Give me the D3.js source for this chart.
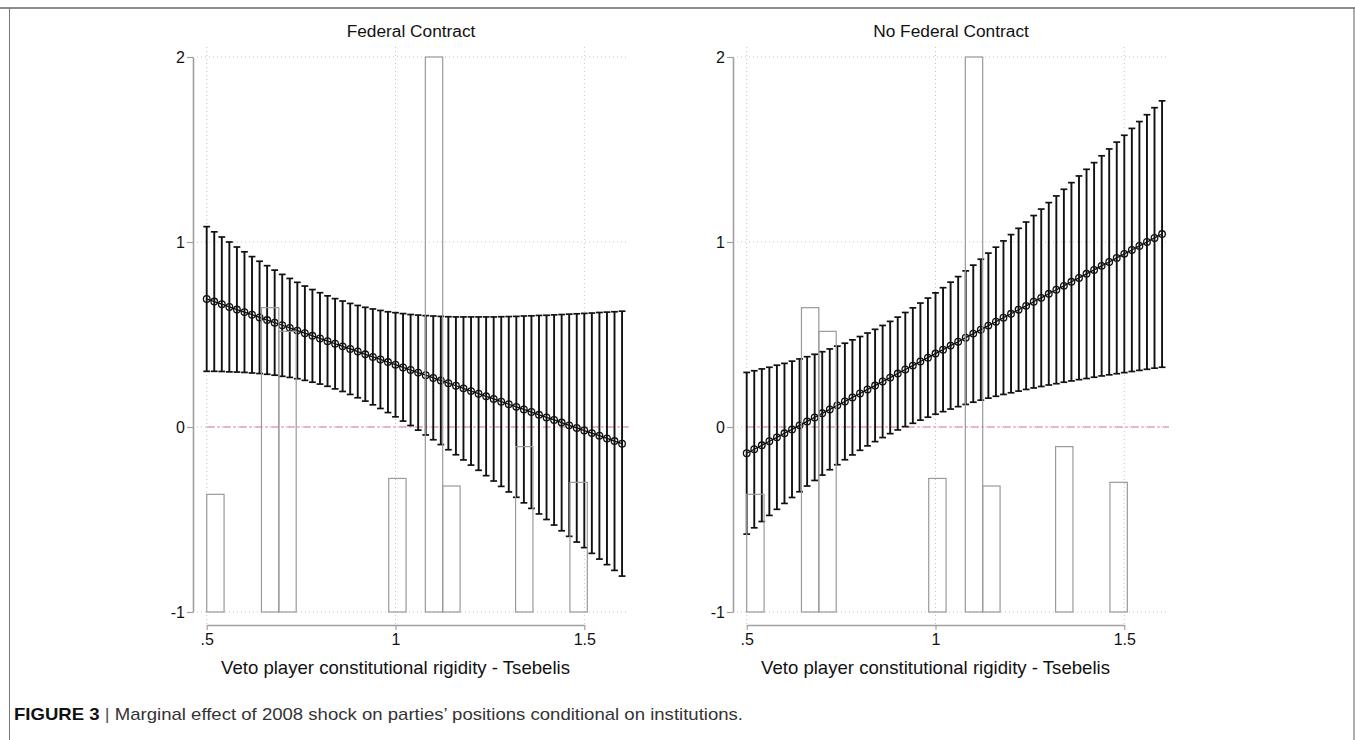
<!DOCTYPE html>
<html>
<head>
<meta charset="utf-8">
<script src="https://cdn.jsdelivr.net/npm/d3@7"></script>
<style>
  body { margin: 0; background: #fff; }
  svg { display: block; font-family: "Liberation Sans", Arial, sans-serif; }
</style>
</head>
<body>
<div id="chart"></div>
<script>
// Valeurs de x (rigidité constitutionnelle)
const xVals = [0.50, 0.52, 0.54, 0.56, 0.58, 0.60, 0.62, 0.64, 0.66, 0.68,
  0.70, 0.72, 0.74, 0.76, 0.78, 0.80, 0.82, 0.84, 0.86, 0.88,
  0.90, 0.92, 0.94, 0.96, 0.98, 1.00, 1.02, 1.04, 1.06, 1.08,
  1.10, 1.12, 1.14, 1.16, 1.18, 1.20, 1.22, 1.24, 1.26, 1.28,
  1.30, 1.32, 1.34, 1.36, 1.38, 1.40, 1.42, 1.44, 1.46, 1.48,
  1.50, 1.52, 1.54, 1.56, 1.58, 1.60];

// Federal Contract : effet marginal et intervalle
const fedEst = [0.692, 0.678, 0.664, 0.649, 0.635, 0.621, 0.607, 0.592, 0.578, 0.564,
  0.550, 0.536, 0.521, 0.507, 0.493, 0.479, 0.464, 0.450, 0.436, 0.422,
  0.408, 0.393, 0.379, 0.365, 0.351, 0.337, 0.322, 0.308, 0.294, 0.280,
  0.265, 0.251, 0.237, 0.223, 0.209, 0.194, 0.180, 0.166, 0.152, 0.137,
  0.123, 0.109, 0.095, 0.081, 0.066, 0.052, 0.038, 0.024, 0.009, -0.005,
  -0.019, -0.033, -0.047, -0.062, -0.076, -0.090];
const fedLo = [0.301, 0.301, 0.300, 0.298, 0.297, 0.295, 0.292, 0.289, 0.285, 0.280,
  0.274, 0.268, 0.261, 0.252, 0.242, 0.232, 0.220, 0.206, 0.192, 0.176,
  0.158, 0.140, 0.120, 0.100, 0.078, 0.055, 0.032, 0.008, -0.017, -0.043,
  -0.069, -0.095, -0.123, -0.150, -0.178, -0.206, -0.234, -0.263, -0.292, -0.321,
  -0.351, -0.380, -0.410, -0.440, -0.470, -0.500, -0.530, -0.561, -0.591, -0.622,
  -0.652, -0.683, -0.714, -0.744, -0.775, -0.806];
const fedHi = [1.083, 1.055, 1.027, 1.000, 0.973, 0.947, 0.921, 0.896, 0.872, 0.848,
  0.825, 0.803, 0.782, 0.762, 0.743, 0.726, 0.709, 0.694, 0.681, 0.668,
  0.657, 0.647, 0.638, 0.630, 0.623, 0.618, 0.613, 0.608, 0.605, 0.602,
  0.600, 0.598, 0.596, 0.595, 0.595, 0.595, 0.595, 0.595, 0.595, 0.596,
  0.597, 0.598, 0.600, 0.601, 0.603, 0.604, 0.606, 0.608, 0.610, 0.612,
  0.614, 0.616, 0.619, 0.621, 0.623, 0.626];

// No Federal Contract
const noFedEst = [-0.142, -0.120, -0.099, -0.077, -0.056, -0.034, -0.013, 0.009, 0.030, 0.052,
  0.074, 0.095, 0.117, 0.138, 0.160, 0.181, 0.203, 0.224, 0.246, 0.267,
  0.289, 0.311, 0.332, 0.354, 0.375, 0.397, 0.418, 0.440, 0.461, 0.483,
  0.505, 0.526, 0.548, 0.569, 0.591, 0.612, 0.634, 0.655, 0.677, 0.698,
  0.720, 0.742, 0.763, 0.785, 0.806, 0.828, 0.849, 0.871, 0.892, 0.914,
  0.936, 0.957, 0.979, 1.000, 1.022, 1.043];
const noFedLo = [-0.579, -0.545, -0.511, -0.478, -0.445, -0.413, -0.381, -0.350, -0.319, -0.289,
  -0.260, -0.231, -0.204, -0.177, -0.151, -0.126, -0.102, -0.079, -0.057, -0.036,
  -0.016, 0.002, 0.020, 0.037, 0.053, 0.069, 0.083, 0.097, 0.110, 0.122,
  0.134, 0.145, 0.156, 0.166, 0.176, 0.185, 0.194, 0.203, 0.211, 0.219,
  0.227, 0.234, 0.242, 0.249, 0.256, 0.262, 0.269, 0.276, 0.282, 0.288,
  0.294, 0.300, 0.306, 0.312, 0.318, 0.323];
const noFedHi = [0.295, 0.304, 0.314, 0.323, 0.334, 0.344, 0.356, 0.368, 0.380, 0.393,
  0.407, 0.422, 0.437, 0.453, 0.471, 0.489, 0.508, 0.528, 0.549, 0.571,
  0.594, 0.619, 0.644, 0.670, 0.697, 0.725, 0.753, 0.783, 0.813, 0.844,
  0.875, 0.907, 0.940, 0.972, 1.006, 1.040, 1.074, 1.108, 1.143, 1.178,
  1.213, 1.249, 1.285, 1.321, 1.357, 1.393, 1.429, 1.466, 1.503, 1.540,
  1.577, 1.614, 1.651, 1.688, 1.726, 1.763];

// Histogramme (même distribution dans les deux panneaux), base à -1
const binLeft = [0.500, 0.645, 0.691, 0.982, 1.079, 1.125, 1.318, 1.462];
const binRight = [0.546, 0.691, 0.737, 1.028, 1.125, 1.171, 1.364, 1.508];
const binTop = [-0.364, 0.645, 0.517, -0.278, 2.0, -0.319, -0.106, -0.299];

const yTicks = [-1, 0, 1, 2];
const yTickLabels = ["-1", "0", "1", "2"];
const xTicks = [0.5, 1, 1.5];
const xTickLabels = [".5", "1", "1.5"];
const titles = ["Federal Contract", "No Federal Contract"];
const xTitle = "Veto player constitutional rigidity - Tsebelis";

const width = 1355, height = 740;

const svg = d3.select("#chart")
    .append("svg")
    .attr("width", width)
    .attr("height", height);

// Cadre de la figure
svg.append("line").attr("x1", 0).attr("x2", width).attr("y1", 8).attr("y2", 8)
    .attr("stroke", "#666").attr("stroke-width", 1.5);
svg.append("line").attr("x1", 9.5).attr("x2", 9.5).attr("y1", 8).attr("y2", height)
    .attr("stroke", "#777").attr("stroke-width", 1);
svg.append("line").attr("x1", 1354).attr("x2", 1354).attr("y1", 8).attr("y2", height)
    .attr("stroke", "#777").attr("stroke-width", 1.2);

const panels = [
    { title: titles[0], est: fedEst, lo: fedLo, hi: fedHi, x0: 206.7 },
    { title: titles[1], est: noFedEst, lo: noFedLo, hi: noFedHi, x0: 746.7 }
];

const y = d3.scaleLinear().domain([-1, 2]).range([612, 57]);
const xAxisY = 625;

panels.forEach(p => {
    const x = d3.scaleLinear().domain([0.5, 1.5]).range([p.x0, p.x0 + 377.6]);
    const left = p.x0 - 13.7;
    const right = x(1.6) + 7;
    const g = svg.append("g");

    // Grille pointillée
    g.append("g").selectAll("line")
        .data(yTicks)
        .enter()
        .append("line")
        .attr("x1", left).attr("x2", right)
        .attr("y1", d => y(d)).attr("y2", d => y(d))
        .attr("stroke", "#c4c4c4").attr("stroke-width", 1)
        .attr("stroke-dasharray", "1,3");
    g.append("g").selectAll("line")
        .data(xTicks)
        .enter()
        .append("line")
        .attr("x1", d => x(d)).attr("x2", d => x(d))
        .attr("y1", 47).attr("y2", xAxisY)
        .attr("stroke", "#c4c4c4").attr("stroke-width", 1)
        .attr("stroke-dasharray", "1,3");

    // Ligne de référence à 0
    g.append("line")
        .attr("x1", x(0.5)).attr("x2", right)
        .attr("y1", y(0)).attr("y2", y(0))
        .attr("stroke", "#e0709a").attr("stroke-width", 1.1)
        .attr("stroke-dasharray", "8,3,2,3");

    // Intervalles de confiance
    const idx = d3.range(xVals.length);
    g.append("g").selectAll("line")
        .data(idx)
        .enter()
        .append("line")
        .attr("x1", i => x(xVals[i])).attr("x2", i => x(xVals[i]))
        .attr("y1", i => y(p.lo[i])).attr("y2", i => y(p.hi[i]))
        .attr("stroke", "#111").attr("stroke-width", 1.9);
    [p.lo, p.hi].forEach(arr => {
        g.append("g").selectAll("line")
            .data(idx)
            .enter()
            .append("line")
            .attr("x1", i => x(xVals[i]) - 3.4).attr("x2", i => x(xVals[i]) + 3.4)
            .attr("y1", i => y(arr[i])).attr("y2", i => y(arr[i]))
            .attr("stroke", "#111").attr("stroke-width", 1.7);
    });

    // Effet marginal
    g.append("path")
        .datum(idx)
        .attr("fill", "none")
        .attr("stroke", "#111")
        .attr("stroke-width", 1.3)
        .attr("d", d3.line().x(i => x(xVals[i])).y(i => y(p.est[i])));
    g.append("g").selectAll("circle")
        .data(idx)
        .enter()
        .append("circle")
        .attr("cx", i => x(xVals[i]))
        .attr("cy", i => y(p.est[i]))
        .attr("r", 3.3)
        .attr("fill", "none")
        .attr("stroke", "#111")
        .attr("stroke-width", 1.3);

    // Histogramme
    g.append("g").selectAll("rect")
        .data(binLeft)
        .enter()
        .append("rect")
        .attr("x", (d, i) => x(d))
        .attr("y", (d, i) => y(binTop[i]))
        .attr("width", (d, i) => x(binRight[i]) - x(d))
        .attr("height", (d, i) => y(-1) - y(binTop[i]))
        .attr("fill", "none")
        .attr("stroke", "#9a9a9a")
        .attr("stroke-width", 1.2);

    // Axes
    const yAxis = g.append("g")
        .attr("transform", `translate(${left},0)`)
        .call(d3.axisLeft(y).tickValues(yTicks).tickFormat((d, i) => yTickLabels[i]).tickSize(6).tickSizeOuter(0));
    const xAxis = g.append("g")
        .attr("transform", `translate(0,${xAxisY})`)
        .call(d3.axisBottom(x).tickValues(xTicks).tickFormat((d, i) => xTickLabels[i]).tickSize(5).tickSizeOuter(0));
    [yAxis, xAxis].forEach(a => {
        a.attr("font-size", null).attr("font-family", null);
        a.select(".domain").attr("stroke", "#a0a0a0").attr("stroke-width", 1.6);
        a.selectAll(".tick line").attr("stroke", "#a0a0a0").attr("stroke-width", 1.2);
        a.selectAll(".tick text").attr("fill", "#111")
            .style("font-size", "16px");
    });
    yAxis.selectAll(".tick text").attr("x", -8).attr("dy", "0.36em");
    xAxis.selectAll(".tick text").attr("y", 9);

    // Titres
    g.append("text")
        .attr("x", (left + right) / 2).attr("y", 37)
        .attr("text-anchor", "middle")
        .style("font-size", "17.3px")
        .attr("fill", "#111")
        .text(p.title);
    g.append("text")
        .attr("x", x(1)).attr("y", 674)
        .attr("text-anchor", "middle")
        .style("font-size", "18.6px")
        .attr("fill", "#111")
        .text(xTitle);
});

// Légende de la figure
const cap = svg.append("text")
    .attr("x", 14).attr("y", 720)
    .attr("textLength", 729)
    .attr("lengthAdjust", "spacingAndGlyphs")
    .style("font-size", "17px")
    .attr("fill", "#333");
cap.append("tspan").style("font-weight", "bold").attr("fill", "#111").text("FIGURE 3");
cap.append("tspan").attr("fill", "#555").text(" | ");
cap.append("tspan").text("Marginal effect of 2008 shock on parties\u2019 positions conditional on institutions.");
</script>
</body>
</html>
